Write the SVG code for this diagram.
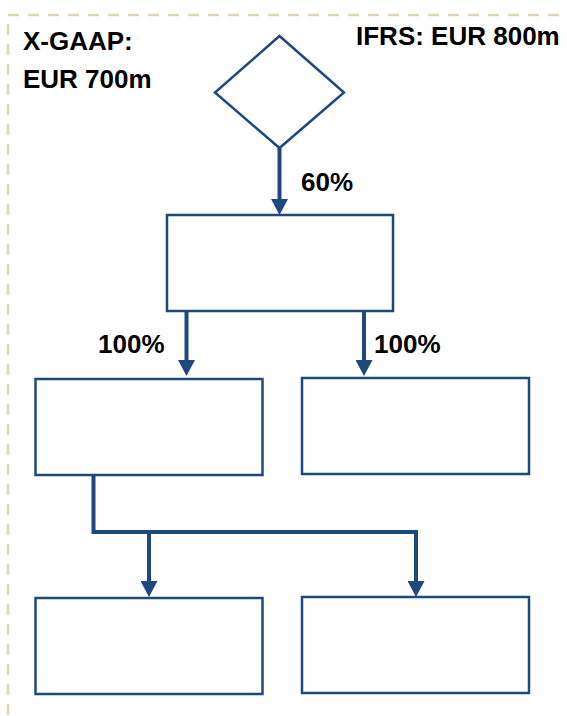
<svg xmlns="http://www.w3.org/2000/svg" width="567" height="716" viewBox="0 0 567 716">
  <style>
    .node { fill: #ffffff; stroke: #1F497D; stroke-width: 2.5; }
    .conn { fill: none; stroke: #1F497D; stroke-width: 4; }
    .lbl { font-family: "Liberation Sans", Arial, sans-serif; font-weight: bold; font-size: 26px; fill: #000000; }
    .frame { fill: none; stroke: #DDD5B5; stroke-width: 2.5; stroke-dasharray: 11 9; }
  </style>
  <defs>
    <marker id="arrow" markerUnits="userSpaceOnUse" markerWidth="16" markerHeight="17" viewBox="0 0 16 17" refX="0" refY="8.5" orient="auto">
      <path d="M0,0 L16,8.5 L0,17 z" fill="#1F497D"/>
    </marker>
  </defs>
  <rect width="567" height="716" fill="#ffffff"/>
  <rect id="frame" class="frame" x="8" y="15" width="600" height="720"/>

  <g id="label-xgaap">
    <text class="lbl" x="23" y="50">X-GAAP:</text>
    <text class="lbl" x="23" y="88">EUR 700m</text>
  </g>
  <g id="label-ifrs">
    <text class="lbl" x="356" y="45">IFRS: EUR 800m</text>
  </g>

  <g id="connectors">
    <path class="conn" d="M279.5,148 V199" marker-end="url(#arrow)"/>
    <path class="conn" d="M186.5,311 V360" marker-end="url(#arrow)"/>
    <path class="conn" d="M364,311 V360" marker-end="url(#arrow)"/>
    <path class="conn" d="M93.5,475 V532 H416 V581" marker-end="url(#arrow)"/>
    <path class="conn" d="M149,532 V581" marker-end="url(#arrow)"/>
    <text class="lbl" x="301" y="191">60%</text>
    <text class="lbl" x="98" y="353">100%</text>
    <text class="lbl" x="374" y="353">100%</text>
  </g>

  <g id="diamond">
    <polygon class="node" points="279.5,36 344,92.5 279.5,148 215,92.5"/>
  </g>
  <g id="box-mid">
    <rect class="node" x="167" y="215" width="226" height="96"/>
  </g>
  <g id="box-l2">
    <rect class="node" x="35.5" y="379" width="227" height="96"/>
  </g>
  <g id="box-r2">
    <rect class="node" x="302" y="378" width="227" height="96"/>
  </g>
  <g id="box-l3">
    <rect class="node" x="35.5" y="598" width="227" height="96"/>
  </g>
  <g id="box-r3">
    <rect class="node" x="302" y="597" width="227" height="96"/>
  </g>
</svg>
